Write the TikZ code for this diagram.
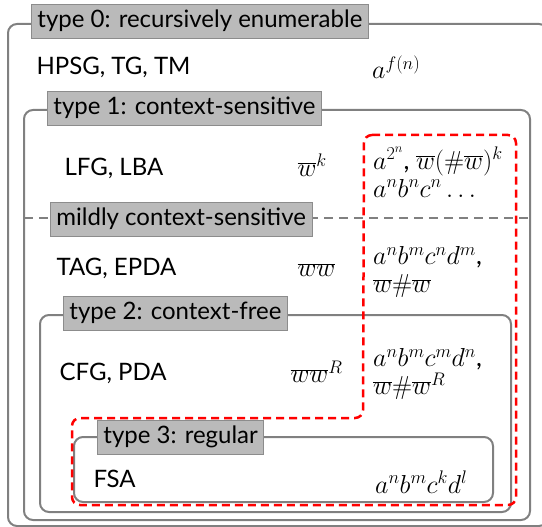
\RequirePackage{fix-cm}
\documentclass[tikz,border=0pt]{standalone}
\usepackage[no-math]{fontspec}
\setmainfont{Lato}
\begin{document}
\begin{tikzpicture}[x=1pt,y=-1pt,
  every node/.style={font=\fontsize{24}{28}\selectfont},
  region/.style={draw=black!50, line width=2pt, rounded corners=9pt},
  tag/.style={draw=black!45, fill=black!27, line width=0.8pt, inner xsep=6pt, inner ysep=2pt, minimum height=34pt},
  formal/.style={anchor=west},
  mathtext/.style={anchor=west, font=\fontsize{26}{29}\selectfont},
  lang/.style={anchor=west, align=left, inner sep=0pt, font=\fontsize{26}{30}\selectfont}]
\useasboundingbox (0,0) rectangle (542,527);
% nested language classes
\draw[region] (8,24) rectangle (548,526);
\draw[region] (24,110) rectangle (530,520);
\draw[region] (40,315) rectangle (511,512);
\draw[region] (74,437) rectangle (493,502);
% mildly context-sensitive boundary
\draw[black!50, line width=2pt, dash pattern=on 9pt off 6pt] (24,218) -- (530,218);
% class labels
\node[tag, anchor=west] (t0) at (31,21) {type 0: recursively enumerable};
\node[tag, anchor=west] (t1) at (47,108) {type 1: context-sensitive};
\node[tag, anchor=west] (mc) at (50,219) {mildly context-sensitive};
\node[tag, anchor=west] (t2) at (63,313) {type 2: context-free};
\node[tag, anchor=west] (t3) at (97,437) {type 3: regular};
% formalisms
\node[formal] (f0) at (33,67) {HPSG, TG, TM};
\node[formal] (f1) at (61,168) {LFG, LBA};
\node[formal] (fm) at (53,268) {TAG, EPDA};
\node[formal] (f2) at (56,373) {CFG, PDA};
\node[formal] (f3) at (90,479) {FSA};
% copy languages
\node[mathtext] (c1) at (294,165) {$\overline{w}^k$};
\node[mathtext] (cm) at (294,270) {$\overline{ww}$};
\node[mathtext] (c2) at (287,372) {$\overline{ww}^R$};
% example languages
\node[lang] (l0) at (372,67) {$a^{f(n)}$};
\node[lang] (l1) at (373,172) {$a^{2^n}$, $\overline{w}(\#\overline{w})^k$\\[-2pt] $a^nb^nc^n\ldots$};
\node[lang] (lm) at (373,272) {$a^nb^mc^nd^m$,\\[-2pt] $\overline{w}\#\overline{w}$};
\node[lang] (l2) at (373,374) {$a^nb^mc^md^n$,\\[-2pt] $\overline{w}\#\overline{w}^R$};
\node[lang] (l3) at (375,482) {$a^nb^mc^kd^l$};
% languages beyond context-free outlined in red
\draw[red, line width=2.5pt, dash pattern=on 8pt off 5pt, rounded corners=8pt]
  (364,135) -- (516,135) -- (516,505) -- (72,505) -- (72,418) -- (363,418) -- cycle;
\end{tikzpicture}
\end{document}
